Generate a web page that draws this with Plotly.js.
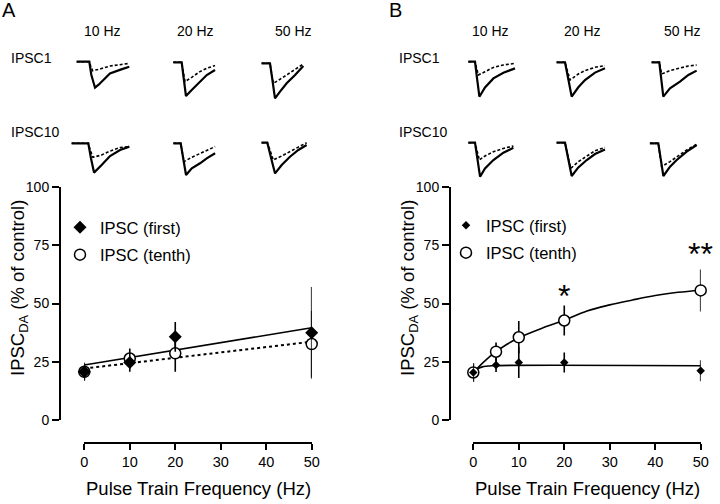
<!DOCTYPE html>
<html>
<head>
<meta charset="utf-8">
<script src="https://cdn.plot.ly/plotly-3.0.1.min.js"></script>
<style>html,body{margin:0;padding:0;background:#fff;}#chart{width:720px;height:504px;}</style>
</head>
<body>
<div id="chart"></div>
<script>
// ---------- Summary data (% of control) ----------
const freqA = [0, 10, 20, 50];
const firstA = [20.7, 24.7, 35.7, 37.4];
const firstAErr = [4.0, 4.0, 6.4, 19.7];
const tenthA = [20.7, 26.4, 28.6, 32.6];
const tenthAErr = [3.5, 4.3, 7.9, 14.3];
const fitFirstAX = [0, 50];
const fitFirstAY = [23.6, 39.6];
const fitTenthAX = [0, 50];
const fitTenthAY = [22.1, 33.6];

const freqB = [0, 5, 10, 20, 50];
const firstB = [20.4, 23.6, 24.7, 24.7, 21.1];
const firstBErr = [4.0, 3.0, 6.7, 4.3, 4.5];
const tenthB = [20.4, 29.3, 35.5, 42.7, 55.6];
const tenthBErr = [4.0, 4.0, 7.0, 6.4, 9.0];
const fitFirstBX = [0, 1, 2, 3, 4, 50];
const fitFirstBY = [20.5, 22.0, 22.8, 23.1, 23.3, 23.3];
const fitTenthBX = [0, 2.5, 5, 7.5, 10, 15, 20, 25, 30, 35, 40, 45, 50];
const fitTenthBY = [20.4, 25.3, 29.3, 32.6, 35.3, 39.3, 42.8, 46.8, 49.4, 51.5, 53.4, 54.8, 55.7];

const tickX = [0, 10, 20, 30, 40, 50];
const tickY = [0, 25, 50, 75, 100];
const freqLabels = ['10 Hz', '20 Hz', '50 Hz'];
const rowLabels = ['IPSC1', 'IPSC10'];

// ---------- Example traces: time (ms) and current (pA); s = control (solid), d = DA (dotted) ----------
const tA1_10s = [-9.5, 0, 1.5, 4.3, 7, 10.5, 15.5, 24, 30];
const iA1_10s = [0, 0, -130, -260, -230, -183, -117, -77, -50];
const tA1_10d = [-9.5, 0, 1.2, 2.5, 8, 15.5, 23, 30];
const iA1_10d = [0, 0, -50, -90, -73, -43, -30, -17];
const tA1_20s = [-6.3, 0, 1.6, 3.2, 7.5, 13.7, 18.8, 25];
const iA1_20s = [0, 0, -170, -337, -277, -193, -127, -77];
const tA1_20d = [-6.3, 0, 1.2, 2.5, 7.5, 13.7, 18.8, 25];
const iA1_20d = [0, 0, -100, -193, -150, -93, -60, -33];
const tA1_50s = [-6.3, 0, 1.9, 3.75, 7.5, 12.5, 18.8, 25];
const iA1_50s = [0, 0, -175, -350, -283, -200, -117, -27];
const tA1_50d = [-6.3, 0, 1.2, 2.5, 7.5, 12.5, 18.8, 25];
const iA1_50d = [0, 0, -100, -200, -160, -117, -67, -7];

const tA10_10s = [-12.5, 0, 2, 4.3, 10, 16.3, 23.8, 30.8];
const iA10_10s = [0, 0, -150, -293, -217, -127, -67, -33];
const tA10_10d = [-12.5, 0, 1.5, 3.5, 10, 16.3, 23.8, 30.8];
const iA10_10d = [0, 0, -70, -140, -117, -77, -43, -33];
const tA10_20s = [-5.5, 0, 2, 4, 8.3, 14.5, 19.5, 25.8];
const iA10_20s = [0, 0, -160, -317, -250, -200, -150, -100];
const tA10_20d = [-5.5, 0, 1.2, 2.5, 8.3, 14.5, 19.5, 25.8];
const iA10_20d = [0, 0, -90, -183, -140, -100, -67, -33];
const tA10_50s = [-4.3, 0, 3, 5.8, 10.8, 17, 23.3, 29.5];
const iA10_50s = [0, 0, -160, -307, -223, -140, -73, -23];
const tA10_50d = [-4.3, 0, 2.3, 4.5, 10.8, 17, 23.3, 29.5];
const iA10_50d = [0, 0, -85, -173, -133, -90, -40, 0];

const tB1_10s = [-5, 0, 1.6, 3.3, 7.5, 13.8, 21.3, 30];
const iB1_10s = [0, 0, -175, -350, -257, -167, -110, -67];
const tB1_10d = [-5, 0, 1.2, 2.5, 7.5, 13.8, 21.3, 30];
const iB1_10d = [0, 0, -65, -133, -100, -57, -33, -17];
const tB1_20s = [-6.3, 0, 2.5, 5, 10, 15, 22.5, 30];
const iB1_20s = [0, 0, -170, -343, -250, -177, -103, -60];
const tB1_20d = [-6.3, 0, 1.9, 3.8, 10, 15, 22.5, 30];
const iB1_20d = [0, 0, -90, -177, -117, -83, -50, -33];
const tB1_50s = [-5.8, 0, 1.5, 3, 8, 15.5, 21.8, 28];
const iB1_50s = [0, 0, -170, -343, -260, -193, -127, -83];
const tB1_50d = [-5.8, 0, 0.9, 1.8, 8, 15.5, 21.8, 28];
const iB1_50d = [0, 0, -60, -117, -83, -60, -37, -27];

const tB10_10s = [-5, 0, 1.9, 3.8, 7.5, 13.8, 21.3, 28.8];
const iB10_10s = [0, 0, -170, -340, -257, -173, -100, -50];
const tB10_10d = [-5, 0, 1.6, 3.3, 7.5, 13.8, 21.3, 28.8];
const iB10_10d = [0, 0, -85, -173, -133, -90, -57, -33];
const tB10_20s = [-6.3, 0, 2.5, 5, 10, 16.3, 22.5, 30];
const iB10_20s = [0, 0, -165, -333, -247, -173, -113, -67];
const tB10_20d = [-6.3, 0, 2.1, 4.3, 10, 16.3, 22.5, 30];
const iB10_20d = [0, 0, -128, -257, -190, -133, -80, -47];
const tB10_50s = [-6.3, 0, 1.9, 3.8, 8.8, 13.8, 21.3, 28.8];
const iB10_50s = [0, 0, -163, -327, -233, -167, -83, -17];
const tB10_50d = [-6.3, 0, 1.2, 2.5, 8.8, 13.8, 21.3, 28.8];
const iB10_50d = [0, 0, -117, -233, -183, -133, -67, -10];

// ---------- helpers ----------
const W = 720, H = 504;
const PX = x => x / W;
const PY = y => 1 - y / H;
const FONT = 'Liberation Sans, Arial, sans-serif';

const traces = [];
const layout = {
  width: W, height: H,
  margin: {l: 0, r: 0, t: 0, b: 0},
  paper_bgcolor: '#fff', plot_bgcolor: 'rgba(0,0,0,0)',
  font: {family: FONT, color: '#000'},
  showlegend: true,
  annotations: [],
};

function mainX(d0, d1) {
  return {domain: [PX(d0), PX(d1)], range: [0, 50], anchor: 'free', position: PY(442.7),
    showline: true, linewidth: 2, linecolor: '#000', ticks: 'outside', ticklen: 6, tickwidth: 2,
    tickcolor: '#000', tickvals: tickX, showgrid: false, zeroline: false, fixedrange: true,
    tickfont: {size: 14.5, family: FONT, color: '#000'}};
}
function mainY(pos) {
  return {domain: [PY(420), PY(187)], range: [0, 100], anchor: 'free', position: PX(pos),
    showline: true, linewidth: 2, linecolor: '#000', ticks: 'outside', ticklen: 7, tickwidth: 2,
    tickcolor: '#000', tickvals: tickY, showgrid: false, zeroline: false, fixedrange: true,
    tickfont: {size: 14, family: FONT, color: '#000'}};
}
layout.xaxis = mainX(84.3, 311.7);
layout.yaxis = mainY(60);
layout.xaxis2 = mainX(473.3, 700.7);
layout.yaxis2 = mainY(450);

// Fit lines
traces.push({x: fitFirstAX, y: fitFirstAY, xaxis: 'x', yaxis: 'y', mode: 'lines', line: {color: '#000', width: 1.6}, showlegend: false, hoverinfo: 'skip'});
traces.push({x: fitTenthAX, y: fitTenthAY, xaxis: 'x', yaxis: 'y', mode: 'lines', line: {color: '#000', width: 2, dash: 'dot'}, showlegend: false, hoverinfo: 'skip'});
traces.push({x: fitFirstBX, y: fitFirstBY, xaxis: 'x2', yaxis: 'y2', mode: 'lines', line: {color: '#000', width: 1.6, shape: 'spline'}, showlegend: false, hoverinfo: 'skip'});
traces.push({x: fitTenthBX, y: fitTenthBY, xaxis: 'x2', yaxis: 'y2', mode: 'lines', line: {color: '#000', width: 1.6, shape: 'spline'}, showlegend: false, hoverinfo: 'skip'});

// Data points
function errY(arr) { return {type: 'data', array: arr, visible: true, color: '#000', thickness: 1.6, width: 0}; }
traces.push({x: freqA, y: tenthA, error_y: errY(tenthAErr), xaxis: 'x', yaxis: 'y', mode: 'markers', name: 'IPSC (tenth)',
  legend: 'legend', legendrank: 2, legendgroup: 'tenthA', cliponaxis: false,
  marker: {symbol: 'circle', size: 11, color: '#fff', line: {color: '#000', width: 1.5}}});
traces.push({x: freqA, y: firstA, error_y: errY(firstAErr), xaxis: 'x', yaxis: 'y', mode: 'markers', name: 'IPSC (first)',
  legend: 'legend', legendrank: 1, legendgroup: 'firstA', cliponaxis: false,
  marker: {symbol: 'diamond', size: 10, color: '#000', line: {color: '#000', width: 0}}});
traces.push({x: freqB, y: tenthB, error_y: errY(tenthBErr), xaxis: 'x2', yaxis: 'y2', mode: 'markers', name: 'IPSC (tenth)',
  legend: 'legend2', legendrank: 2, legendgroup: 'tenthB', cliponaxis: false,
  marker: {symbol: 'circle', size: 11, color: '#fff', line: {color: '#000', width: 1.5}}});
traces.push({x: freqB, y: firstB, error_y: errY(firstBErr), xaxis: 'x2', yaxis: 'y2', mode: 'markers', name: 'IPSC (first)',
  legend: 'legend2', legendrank: 1, legendgroup: 'firstB', cliponaxis: false,
  marker: {symbol: 'diamond', size: 6.5, color: '#000', line: {color: '#000', width: 0}}});

const legendCommon = {xanchor: 'left', yanchor: 'top', bgcolor: 'rgba(0,0,0,0)', borderwidth: 0,
  font: {size: 16.5, family: FONT, color: '#000'}, traceorder: 'grouped', tracegroupgap: 3,
  itemclick: false, itemdoubleclick: false};
layout.legend = Object.assign({x: PX(60), y: PY(210)}, legendCommon);
layout.legend2 = Object.assign({x: PX(446), y: PY(208)}, legendCommon);

// Example trace insets
const insets = [
  [tA1_10s, iA1_10s, tA1_10d, iA1_10d, 89.3, 61.7],
  [tA1_20s, iA1_20s, tA1_20d, iA1_20d, 181.7, 62.3],
  [tA1_50s, iA1_50s, tA1_50d, iA1_50d, 270, 63.3],
  [tA10_10s, iA10_10s, tA10_10d, iA10_10d, 88.3, 143.3],
  [tA10_20s, iA10_20s, tA10_20d, iA10_20d, 180.7, 143.3],
  [tA10_50s, iA10_50s, tA10_50d, iA10_50d, 267.3, 142.7],
  [tB1_10s, iB1_10s, tB1_10d, iB1_10d, 475, 61.7],
  [tB1_20s, iB1_20s, tB1_20d, iB1_20d, 565, 62.3],
  [tB1_50s, iB1_50s, tB1_50d, iB1_50d, 659.3, 62.3],
  [tB10_10s, iB10_10s, tB10_10d, iB10_10d, 475, 142.7],
  [tB10_20s, iB10_20s, tB10_20d, iB10_20d, 565, 142.7],
  [tB10_50s, iB10_50s, tB10_50d, iB10_50d, 658.3, 143.3],
];
const PXMS = 1.3333; // px per ms
const PXPA = 0.1;    // px per pA
insets.forEach((ins, k) => {
  const n = k + 3;
  const [ts, is, td, id, ox, oy] = ins;
  layout['xaxis' + n] = {domain: [PX(ox - 13 * PXMS), PX(ox + 32 * PXMS)], range: [-13, 32], visible: false, fixedrange: true, anchor: 'y' + n};
  layout['yaxis' + n] = {domain: [PY(oy + 380 * PXPA), PY(oy - 20 * PXPA)], range: [-380, 20], visible: false, fixedrange: true, anchor: 'x' + n};
  traces.push({x: td, y: id, xaxis: 'x' + n, yaxis: 'y' + n, mode: 'lines', line: {color: '#000', width: 1.6, dash: '3px,2px'}, showlegend: false, hoverinfo: 'skip'});
  traces.push({x: ts, y: is, xaxis: 'x' + n, yaxis: 'y' + n, mode: 'lines', line: {color: '#000', width: 2.2}, showlegend: false, hoverinfo: 'skip'});
});

// Text annotations
function ann(text, x, y, opts) {
  layout.annotations.push(Object.assign({text: text, x: PX(x), y: PY(y), xref: 'paper', yref: 'paper',
    showarrow: false, xanchor: 'center', yanchor: 'middle', font: {size: 14, family: FONT, color: '#000'}}, opts || {}));
}
ann('A', 0, 10, {xanchor: 'left', font: {size: 20, family: FONT, color: '#000'}});
ann('B', 387, 10, {xanchor: 'left', font: {size: 20, family: FONT, color: '#000'}});
[[102, 196, 293], [490, 582, 682]].forEach(xs => xs.forEach((x, i) => ann(freqLabels[i], x, 31)));
[9, 397].forEach(x => { ann(rowLabels[0], x, 58, {xanchor: 'left'}); ann(rowLabels[1], x, 132, {xanchor: 'left'}); });
ann('Pulse Train Frequency (Hz)', 198, 488, {font: {size: 18.5, family: FONT, color: '#000'}});
ann('Pulse Train Frequency (Hz)', 587, 488, {font: {size: 18.5, family: FONT, color: '#000'}});
ann('IPSC<sub>DA</sub> (% of control)', 19, 288, {textangle: -90, font: {size: 18.5, family: FONT, color: '#000'}});
ann('IPSC<sub>DA</sub> (% of control)', 409, 288, {textangle: -90, font: {size: 18.5, family: FONT, color: '#000'}});
// significance marks
layout.annotations.push({text: '*', x: 20, y: 56.5, xref: 'x2', yref: 'y2', showarrow: false, yshift: -8,
  font: {size: 32, family: FONT, color: '#000'}});
layout.annotations.push({text: '**', x: 50, y: 74.6, xref: 'x2', yref: 'y2', showarrow: false, yshift: -8,
  font: {size: 32, family: FONT, color: '#000'}});

Plotly.newPlot('chart', traces, layout, {staticPlot: true, displayModeBar: false});
</script>
</body>
</html>
